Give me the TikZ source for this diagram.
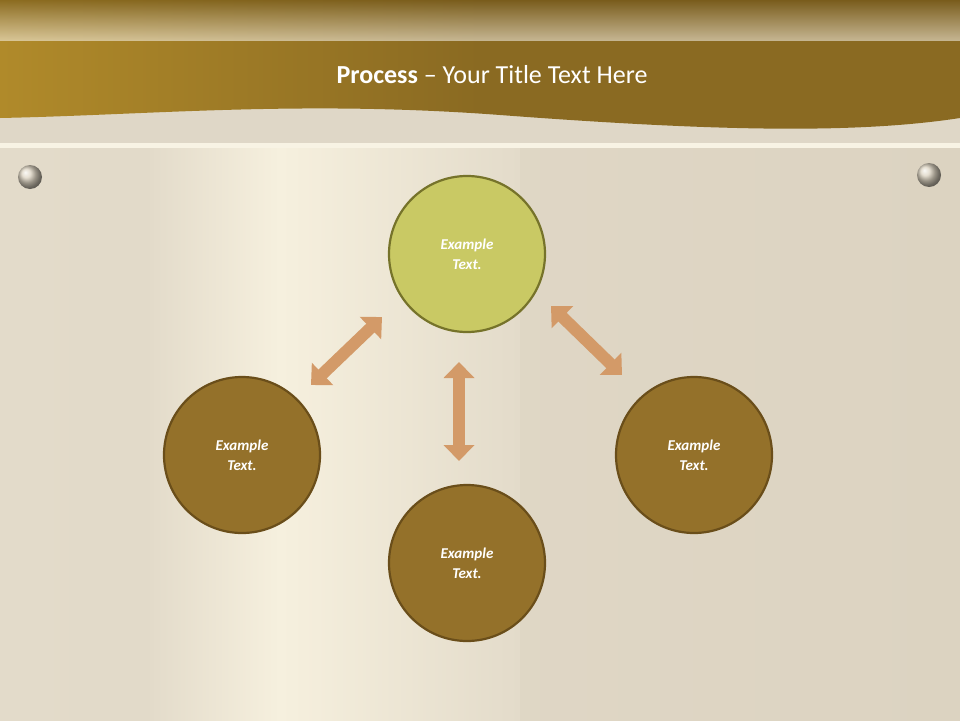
\documentclass[tikz,border=0pt]{standalone}
\usepackage{fontspec}
\setmainfont{Carlito}
\usetikzlibrary{arrows.meta}
\definecolor{bgA}{HTML}{E3DBCA}
\definecolor{bgB}{HTML}{F6F0DE}
\definecolor{bgC}{HTML}{DCD3C1}
\definecolor{hdA}{HTML}{B08A2A}
\definecolor{hdB}{HTML}{8A6A22}
\definecolor{hdC}{HTML}{6A5018}
\definecolor{topF}{HTML}{C9C964}
\definecolor{topD}{HTML}{76732A}
\definecolor{brF}{HTML}{94712A}
\definecolor{brD}{HTML}{6A4E1A}
\definecolor{arr}{HTML}{D39A68}
\tikzset{
  circ/.style={circle,minimum size=156pt,line width=2.2pt,inner sep=0pt,align=center,
    text=white,font=\fontsize{15}{20}\selectfont\bfseries\itshape},
  topc/.style={circ,fill=topF,draw=topD},
  brc/.style={circ,fill=brF,draw=brD},
  barrow/.style={arr,line width=12pt,{Triangle[width=30pt,length=16pt]}-{Triangle[width=30pt,length=16pt]},shorten <=0pt,shorten >=0pt},
  pin/.style={circle,minimum size=24pt,inner sep=0pt,ball color=bgC,draw=none}
}
\begin{document}
\begin{tikzpicture}[x=1pt,y=-1pt]
\useasboundingbox (0,0) rectangle (960,720);
% background
\shade[left color=bgA,right color=bgC] (0,0) rectangle (960,720);
\shade[left color=bgA,right color=bgB] (150,140) rectangle (280,720);
\shade[left color=bgB,right color=bgA] (280,140) rectangle (520,720);
\fill[bgC!90!white] (0,110) rectangle (960,146);
\fill[bgB!80!white] (0,143) rectangle (960,148);
% header
\shade[left color=hdA,right color=hdB,middle color=hdB] (0,0) -- (960,0) -- (960,118)
  .. controls (850,135) and (700,130) .. (500,115)
  .. controls (300,100) and (150,115) .. (0,118) -- cycle;
\shade[top color=hdC,bottom color=hdC!0,opacity=0.5] (0,0) rectangle (960,40);
\node[text=white,font=\fontsize{26}{30}\selectfont] (title) at (492,75) {\textbf{Process} – Your Title Text Here};
% pins
\node[pin] (p1) at (30,177) {};
\node[pin] (p2) at (929,175) {};
% circles
\node[topc] (t) at (467,254) {Example\\Text.};
\node[brc] (l) at (242,455) {Example\\Text.};
\node[brc] (r) at (694,455) {Example\\Text.};
\node[brc] (b) at (467,563) {Example\\Text.};
% arrows
\coordinate (a1) at (311,385); \coordinate (a2) at (382,317);
\coordinate (b1) at (551,306); \coordinate (b2) at (622,375);
\coordinate (c1) at (459,362); \coordinate (c2) at (459,461);
\draw[barrow] (a1) -- (a2);
\draw[barrow] (b1) -- (b2);
\draw[barrow] (c1) -- (c2);
\end{tikzpicture}
\end{document}
